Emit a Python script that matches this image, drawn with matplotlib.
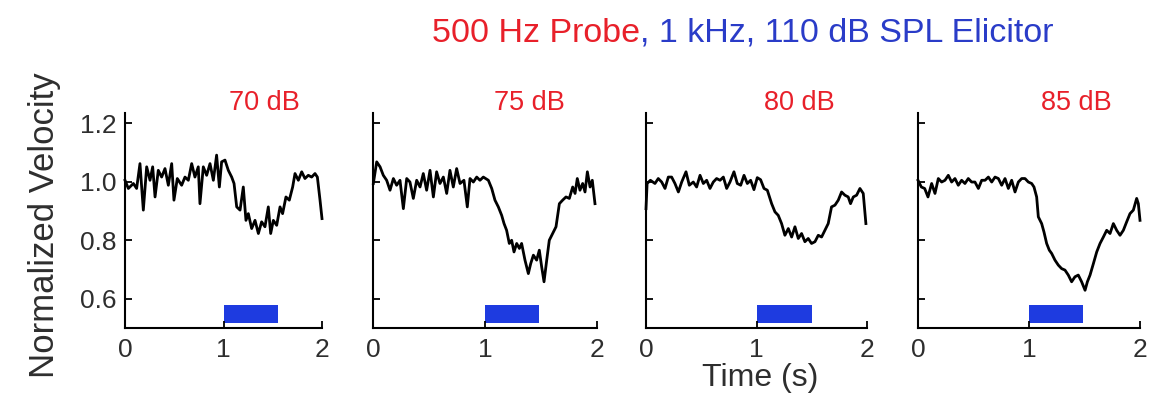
import matplotlib
matplotlib.use('Agg')
import matplotlib.pyplot as plt
from matplotlib.patches import Rectangle

plt.rcParams['font.family'] = ['Liberation Sans', 'DejaVu Sans']

# traces (time in s, normalized velocity)
t70 = [0.0, 0.034, 0.085, 0.118, 0.152, 0.186, 0.22, 0.254, 0.281, 0.305, 0.338, 0.372,
       0.406, 0.44, 0.474, 0.497, 0.531, 0.575, 0.609, 0.643, 0.677, 0.71, 0.744, 0.761,
       0.795, 0.829, 0.863, 0.897, 0.93, 0.958, 0.981, 1.015, 1.049, 1.083, 1.107, 1.134,
       1.168, 1.201, 1.228, 1.252, 1.286, 1.32, 1.354, 1.387, 1.421, 1.455, 1.479, 1.506,
       1.54, 1.574, 1.6, 1.634, 1.668, 1.702, 1.726, 1.76, 1.794, 1.827, 1.861, 1.895,
       1.929, 1.953, 1.98, 2.0]
v70 = [1.005, 0.977, 0.994, 0.977, 1.062, 0.903, 1.051, 1.005, 1.051, 0.948, 1.039, 1.016,
       1.045, 0.988, 1.062, 0.937, 1.011, 0.988, 1.016, 1.005, 1.062, 1.016, 1.051, 0.925,
       1.051, 1.022, 1.062, 1.005, 1.091, 0.982, 1.068, 1.074, 1.039, 1.016, 0.994, 0.914,
       0.903, 0.982, 0.868, 0.891, 0.84, 0.868, 0.823, 0.863, 0.846, 0.914, 0.823, 0.868,
       0.851, 0.914, 0.891, 0.948, 0.937, 0.982, 1.028, 1.005, 1.034, 1.011, 1.022, 1.016,
       1.028, 1.016, 0.937, 0.874]

t75 = [0.003, 0.033, 0.063, 0.092, 0.122, 0.152, 0.182, 0.211, 0.241, 0.271, 0.301, 0.33,
       0.36, 0.39, 0.42, 0.449, 0.479, 0.509, 0.539, 0.568, 0.598, 0.628, 0.658, 0.687,
       0.717, 0.747, 0.777, 0.812, 0.842, 0.866, 0.896, 0.926, 0.955, 0.985, 1.03, 1.06,
       1.089, 1.119, 1.149, 1.17, 1.193, 1.217, 1.238, 1.259, 1.283, 1.307, 1.327, 1.357,
       1.387, 1.408, 1.432, 1.461, 1.485, 1.506, 1.527, 1.551, 1.574, 1.604, 1.634, 1.664,
       1.693, 1.723, 1.753, 1.783, 1.804, 1.824, 1.848, 1.872, 1.893, 1.914, 1.938, 1.958,
       1.982]
v75 = [0.994, 1.068, 1.051, 1.022, 1.005, 0.971, 1.011, 0.988, 1.005, 0.908, 1.011, 0.999,
       0.943, 1.005, 0.982, 1.028, 0.971, 1.039, 0.948, 1.034, 0.994, 1.016, 0.96, 1.039,
       0.982, 1.045, 0.994, 1.005, 0.914, 1.011, 0.999, 1.016, 1.005, 1.016, 1.005, 0.977,
       0.937, 0.914, 0.885, 0.857, 0.834, 0.789, 0.8, 0.76, 0.789, 0.772, 0.789, 0.732,
       0.686, 0.72, 0.749, 0.732, 0.766, 0.709, 0.658, 0.732, 0.8, 0.823, 0.846, 0.925,
       0.937, 0.948, 0.943, 0.982, 0.96, 1.011, 0.971, 0.994, 0.965, 1.034, 0.982, 1.005,
       0.925]

t80 = [0.0, 0.01, 0.04, 0.081, 0.111, 0.142, 0.172, 0.202, 0.232, 0.262, 0.293, 0.323,
       0.362, 0.392, 0.428, 0.458, 0.489, 0.519, 0.549, 0.579, 0.609, 0.639, 0.67, 0.7,
       0.73, 0.76, 0.796, 0.826, 0.857, 0.887, 0.917, 0.947, 0.977, 1.007, 1.037, 1.068,
       1.098, 1.137, 1.167, 1.197, 1.227, 1.257, 1.288, 1.318, 1.348, 1.378, 1.408, 1.438,
       1.468, 1.498, 1.529, 1.559, 1.589, 1.619, 1.649, 1.679, 1.71, 1.74, 1.77, 1.8,
       1.83, 1.851, 1.876, 1.906, 1.936, 1.966, 1.99]
v80 = [0.908, 0.994, 1.005, 0.994, 1.011, 0.999, 0.977, 1.016, 1.016, 0.994, 0.965, 0.999,
       1.034, 0.988, 0.999, 0.982, 1.022, 0.994, 1.005, 0.977, 0.999, 1.011, 1.005, 1.016,
       0.977, 0.999, 1.034, 0.994, 0.988, 1.022, 0.994, 1.005, 0.973, 1.014, 1.007, 0.977,
       0.971, 0.925, 0.897, 0.885, 0.857, 0.817, 0.84, 0.811, 0.846, 0.806, 0.823, 0.795,
       0.806, 0.789, 0.795, 0.817, 0.811, 0.834, 0.857, 0.914, 0.92, 0.937, 0.965, 0.954,
       0.948, 0.925, 0.948, 0.954, 0.977, 0.96, 0.857]

t85 = [0.0, 0.03, 0.06, 0.09, 0.123, 0.153, 0.183, 0.213, 0.243, 0.273, 0.303, 0.333,
       0.363, 0.393, 0.423, 0.453, 0.483, 0.513, 0.544, 0.574, 0.604, 0.634, 0.664, 0.694,
       0.724, 0.754, 0.784, 0.814, 0.844, 0.874, 0.904, 0.934, 0.964, 0.994, 1.024, 1.045,
       1.069, 1.084, 1.114, 1.135, 1.159, 1.183, 1.204, 1.234, 1.264, 1.294, 1.324, 1.354,
       1.384, 1.414, 1.444, 1.474, 1.505, 1.526, 1.55, 1.58, 1.61, 1.64, 1.67, 1.7,
       1.73, 1.76, 1.79, 1.82, 1.85, 1.88, 1.91, 1.94, 1.97, 1.985, 2.0]
v85 = [1.005, 0.982, 0.977, 0.948, 0.994, 0.96, 1.011, 0.999, 1.005, 1.022, 0.999, 1.011,
       0.988, 1.005, 0.994, 1.011, 0.999, 0.999, 0.977, 1.005, 1.005, 1.016, 0.999, 1.016,
       1.011, 0.988, 1.011, 0.977, 1.005, 0.965, 0.999, 1.011, 1.011, 0.999, 0.994, 0.982,
       0.948, 0.88, 0.857, 0.828, 0.789, 0.766, 0.755, 0.732, 0.715, 0.703, 0.698, 0.681,
       0.658, 0.675, 0.681, 0.658, 0.629, 0.658, 0.681, 0.72, 0.76, 0.789, 0.811, 0.834,
       0.823, 0.857, 0.834, 0.817, 0.834, 0.863, 0.891, 0.903, 0.943, 0.925, 0.868]

levels = ['70 dB', '75 dB', '80 dB', '85 dB']
times = [t70, t75, t80, t85]
traces = [v70, v75, v80, v85]
stim_on = [1.0, 1.0, 1.0, 1.0]
stim_off = [1.55, 1.48, 1.5, 1.49]
yticks = [0.6, 0.8, 1.0, 1.2]
xticks = [0, 1, 2]

RED = '#E8202A'
BLUE = '#2A3CC8'
BAR = '#1E3BE0'
INK = '#2E2E2E'

W, H = 1160, 397
fig = plt.figure(figsize=(W / 100, H / 100), dpi=100)

# axes boxes in pixels: left, right ; common top/bottom
boxes = [(125, 322), (373, 597), (646, 867), (918, 1140)]
top, bot = 113, 328
title_right = [300, 565, 835, 1112]

for i, (l, r) in enumerate(boxes):
    ax = fig.add_axes([l / W, (H - bot) / H, (r - l) / W, (bot - top) / H])
    ax.plot(times[i], traces[i], color='black', lw=2.0, clip_on=False,
            solid_joinstyle='round')
    ax.add_patch(Rectangle((stim_on[i], 0.518), stim_off[i] - stim_on[i], 0.06,
                           facecolor=BAR, edgecolor='none'))
    ax.set_xlim(0, 2)
    ax.set_ylim(0.5, 1.235)
    ax.set_xticks(xticks)
    ax.set_xticklabels([str(x) for x in xticks])
    ax.set_yticks(yticks)
    if i == 0:
        ax.set_yticklabels(['%.1f' % y for y in yticks])
    else:
        ax.set_yticklabels([])
    for s in ['top', 'right']:
        ax.spines[s].set_visible(False)
    for s in ['left', 'bottom']:
        ax.spines[s].set_linewidth(1.5)
    ax.tick_params(direction='in', length=5, width=1.3, labelsize=19, pad=6,
                   labelcolor=INK)
    ax.tick_params(axis='x', pad=7)
    fig.text(title_right[i] / W, (H - 110) / H, levels[i], color=RED, fontsize=19.5,
             ha='right', va='baseline')

# two-colour header
split = 640 / W
fig.text(split, (H - 42) / H, '500 Hz Probe', color=RED, fontsize=24.5,
         ha='right', va='baseline')
fig.text(split, (H - 42) / H, ', 1 kHz, 110 dB SPL Elicitor', color=BLUE, fontsize=24.5,
         ha='left', va='baseline')

fig.text(45 / W, (H - 225) / H, 'Normalized Velocity', rotation=90, fontsize=25,
         color=INK, ha='center', va='center')
fig.text(760 / W, (H - 386) / H, 'Time (s)', fontsize=23, color=INK,
         ha='center', va='baseline')

fig.savefig('out.png', dpi=100, facecolor='white')
